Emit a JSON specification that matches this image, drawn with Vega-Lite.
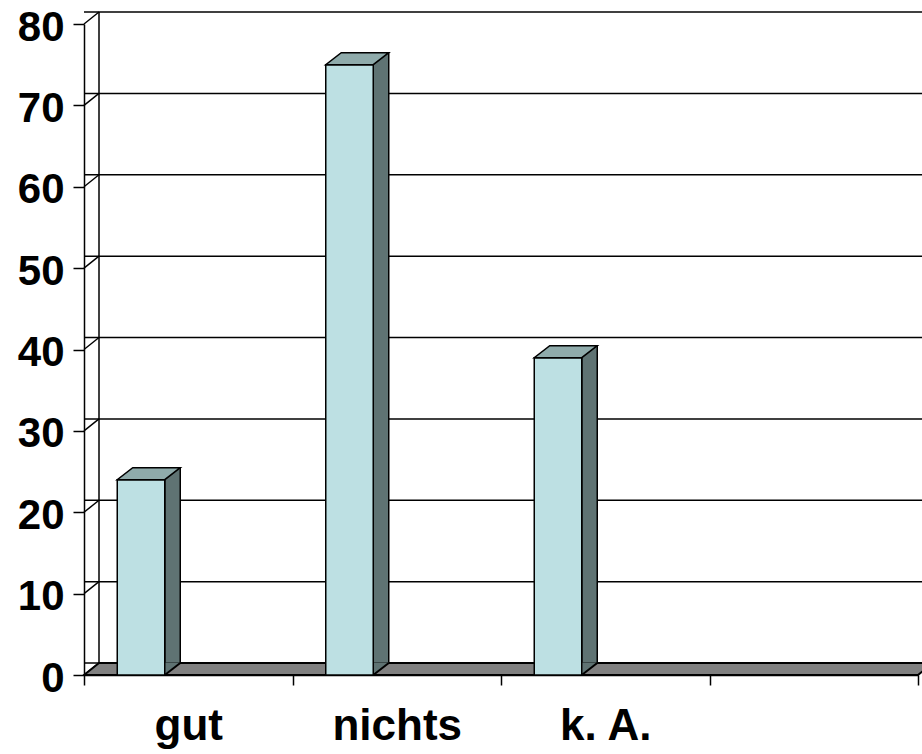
{
  "$schema": "https://vega.github.io/schema/vega-lite/v6.json",
  "autosize": {"type": "none"},
  "padding": {"left": 84, "top": 24, "right": 4, "bottom": 79},
  "width": 834,
  "height": 651,
  "background": "white",
  "config": {
    "view": {"stroke": null},
    "axis": {"labelFont": "Liberation Sans", "labelFontWeight": "bold", "labelFontSize": 44, "labelColor": "black", "domainColor": "black", "tickColor": "black", "domainWidth": 1.5, "tickWidth": 1.5, "title": null},
    "axisX": {"labelAngle": 0, "tickBand": "extent", "tickSize": 10, "labelPadding": 19, "labelExpr": "datum.value == '_' ? '' : datum.value"},
    "axisY": {"grid": false, "tickSize": 11, "labelPadding": 9, "labelFontSize": 42, "labelOffset": 3}
  },
  "datasets": {
    "bars": [
      {"cat": "gut", "value": 24},
      {"cat": "nichts", "value": 75},
      {"cat": "k. A.", "value": 39}
    ],
    "ticks": [
      {"t": 0}, {"t": 10}, {"t": 20}, {"t": 30}, {"t": 40}, {"t": 50}, {"t": 60}, {"t": 70}, {"t": 80}
    ],
    "wall": [{"lo": 0, "hi": 80}]
  },
  "layer": [
    {
      "data": {"name": "ticks"},
      "mark": {"type": "rule", "color": "black", "strokeWidth": 1.5, "xOffset": 15, "x2Offset": 15, "yOffset": -12},
      "encoding": {
        "y": {"field": "t", "type": "quantitative", "scale": {"domain": [0, 80], "nice": false}, "title": null}
      }
    },
    {
      "data": {"name": "ticks"},
      "mark": {"type": "point", "shape": "M-104.25,0 L-89.25,-12", "size": 4, "filled": false, "stroke": "black", "strokeWidth": 1.5, "opacity": 1},
      "encoding": {
        "x": {"datum": "gut", "type": "nominal", "scale": {"domain": ["gut", "nichts", "k. A.", "_"], "paddingInner": 0, "paddingOuter": 0}, "title": null},
        "y": {"field": "t", "type": "quantitative", "scale": {"domain": [0, 80], "nice": false}, "title": null}
      }
    },
    {
      "data": {"name": "wall"},
      "mark": {"type": "rule", "color": "black", "strokeWidth": 1.5, "xOffset": -89.25, "yOffset": -12, "y2Offset": -12},
      "encoding": {
        "x": {"datum": "gut", "type": "nominal", "scale": {"domain": ["gut", "nichts", "k. A.", "_"], "paddingInner": 0, "paddingOuter": 0}, "title": null},
        "y": {"field": "lo", "type": "quantitative", "scale": {"domain": [0, 80], "nice": false}, "title": null},
        "y2": {"field": "hi"}
      }
    },
    {
      "data": {"name": "wall"},
      "mark": {"type": "point", "shape": "M-104.25,0 L729.75,0 L744.75,-12 L-89.25,-12 Z", "size": 4, "filled": true, "fill": "#808080", "stroke": "black", "strokeWidth": 2, "opacity": 1},
      "encoding": {
        "x": {"datum": "gut", "type": "nominal", "scale": {"domain": ["gut", "nichts", "k. A.", "_"], "paddingInner": 0, "paddingOuter": 0}, "title": null},
        "y": {"field": "lo", "type": "quantitative", "scale": {"domain": [0, 80], "nice": false}, "title": null}
      }
    },
    {
      "data": {"name": "bars"},
      "mark": {"type": "bar", "width": 15.5, "xOffset": -15.75, "yOffset": -12, "y2Offset": -12, "fill": "#5f7373", "stroke": "black", "strokeWidth": 1.5, "opacity": 1},
      "encoding": {
        "x": {"field": "cat", "type": "nominal", "scale": {"domain": ["gut", "nichts", "k. A.", "_"], "paddingInner": 0, "paddingOuter": 0}, "title": null},
        "y": {"field": "value", "type": "quantitative", "scale": {"domain": [0, 80], "nice": false}, "title": null}
      }
    },
    {
      "data": {"name": "bars"},
      "mark": {"type": "point", "shape": "M-23.5,-12.5 L-23.5,0 L-8,-12.5 Z", "size": 4, "filled": true, "fill": "#5f7373", "strokeWidth": 0, "opacity": 1},
      "encoding": {
        "x": {"field": "cat", "type": "nominal", "scale": {"domain": ["gut", "nichts", "k. A.", "_"], "paddingInner": 0, "paddingOuter": 0}, "title": null},
        "y": {"datum": 0, "type": "quantitative", "scale": {"domain": [0, 80], "nice": false}, "title": null}
      }
    },
    {
      "data": {"name": "bars"},
      "mark": {"type": "point", "shape": "M-23.5,0 L-8,-12", "size": 4, "filled": false, "stroke": "black", "strokeWidth": 2, "opacity": 1},
      "encoding": {
        "x": {"field": "cat", "type": "nominal", "scale": {"domain": ["gut", "nichts", "k. A.", "_"], "paddingInner": 0, "paddingOuter": 0}, "title": null},
        "y": {"datum": 0, "type": "quantitative", "scale": {"domain": [0, 80], "nice": false}, "title": null}
      }
    },
    {
      "data": {"name": "bars"},
      "mark": {"type": "bar", "width": 47.5, "xOffset": -47.25, "fill": "#bde0e3", "stroke": "black", "strokeWidth": 1.5, "opacity": 1},
      "encoding": {
        "x": {"field": "cat", "type": "nominal", "scale": {"domain": ["gut", "nichts", "k. A.", "_"], "paddingInner": 0, "paddingOuter": 0}, "title": null},
        "y": {"field": "value", "type": "quantitative", "scale": {"domain": [0, 80], "nice": false}, "title": null,
          "axis": {"values": [0, 10, 20, 30, 40, 50, 60, 70, 80]}}
      }
    },
    {
      "data": {"name": "bars"},
      "mark": {"type": "point", "shape": "M-71,0 L-23.5,0 L-8,-12 L-55.5,-12 Z", "size": 4, "filled": true, "fill": "#8fabab", "stroke": "black", "strokeWidth": 1.5, "opacity": 1},
      "encoding": {
        "x": {"field": "cat", "type": "nominal", "scale": {"domain": ["gut", "nichts", "k. A.", "_"], "paddingInner": 0, "paddingOuter": 0}, "title": null},
        "y": {"field": "value", "type": "quantitative", "scale": {"domain": [0, 80], "nice": false}, "title": null}
      }
    }
  ]
}
